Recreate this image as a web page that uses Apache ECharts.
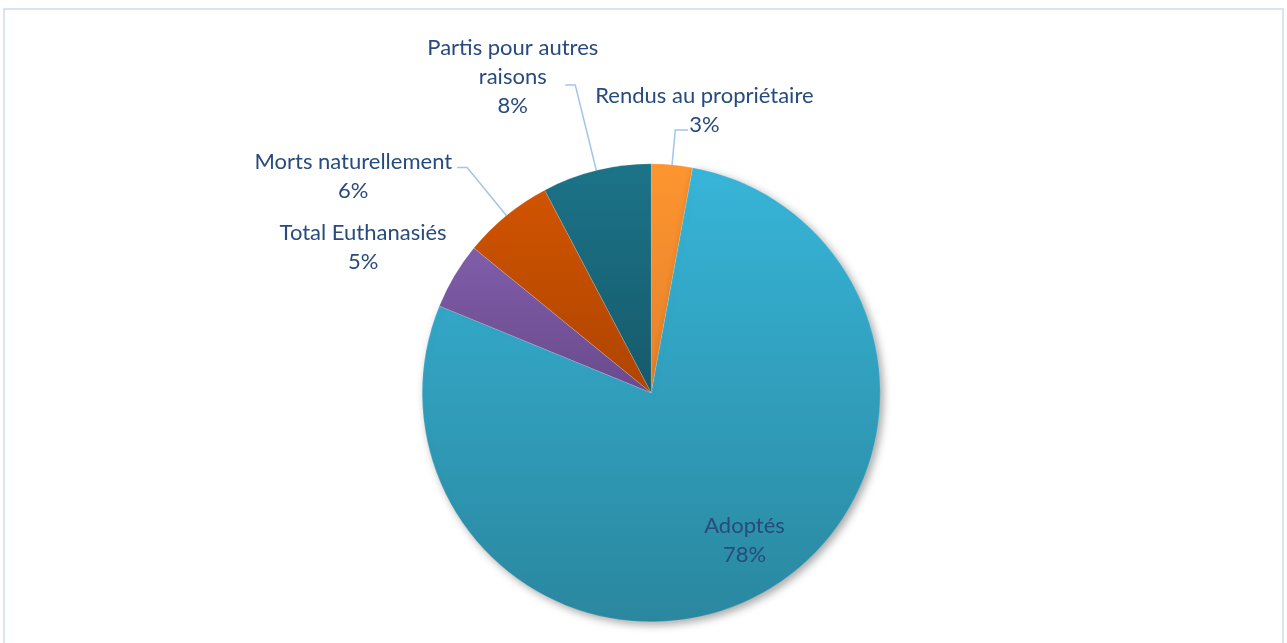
<!DOCTYPE html>
<html>
<head>
<meta charset="utf-8">
<script src="https://cdn.jsdelivr.net/npm/echarts@6/dist/echarts.min.js"></script>
<style>
  html, body { margin: 0; padding: 0; background: #ffffff; }
  #wrap { position: relative; width: 1287px; height: 643px; overflow: hidden; }
  #chart { position: absolute; left: 0; top: 0; width: 1287px; height: 643px; }
  #frame { position: absolute; left: 3px; top: 8px; width: 1281px; height: 660px;
           border: 2px solid #D9E4F3; box-sizing: border-box; pointer-events: none; }
</style>
</head>
<body>
<div id="wrap">
  <div id="chart"></div>
  <div id="frame"></div>
</div>
<script>
// ---- data ----
const categories = ['Rendus au propriétaire', 'Adoptés', 'Total Euthanasiés', 'Morts naturellement', 'Partis pour autres raisons'];
const shares = [2.9, 78.3, 4.7, 6.4, 7.7];

// ---- styles ----
const gradTop    = ['#FD952F', '#37B5D8', '#7F5DA9', '#D05400', '#1C7388'];
const gradBottom = ['#E5812A', '#2A879F', '#6A4A8D', '#AF4400', '#165A6B'];
const lineLen  = [35, 0, 15, 62, 88];
const lineLen2 = [13, 0, 0, 10, 10];
const labelShift = [[-98, -20], [37, 44], [10, -21], [0, 9], [38, -8]];
const textColor = '#274B7D';

function wrapName(name) {
  if (name.length <= 22) return [name];
  const i = name.lastIndexOf(' ');
  return [name.slice(0, i), name.slice(i + 1)];
}

const seriesData = categories.map((name, i) => {
  const item = {
    name: name,
    value: shares[i],
    itemStyle: {
      color: {
        type: 'linear', x: 0, y: 0, x2: 0, y2: 1,
        colorStops: [{ offset: 0, color: gradTop[i] }, { offset: 1, color: gradBottom[i] }]
      }
    },
    labelLine: { length: lineLen[i], length2: lineLen2[i] }
  };
  if (i === 1) {
    item.label = { position: 'inside' };
    item.itemStyle.shadowBlur = 8;
    item.itemStyle.shadowOffsetX = 3;
    item.itemStyle.shadowOffsetY = 3;
    item.itemStyle.shadowColor = 'rgba(0,0,0,0.35)';
  }
  if (i === 2) {
    item.labelLine.show = false;
  }
  return item;
});

const chart = echarts.init(document.getElementById('chart'), null, { renderer: 'canvas' });
chart.setOption({
  animation: false,
  backgroundColor: '#ffffff',
  series: [{
    type: 'pie',
    center: ['50.6%', '61.1%'],
    radius: 229,
    startAngle: 90,
    clockwise: true,
    avoidLabelOverlap: false,
    percentPrecision: 0,
    itemStyle: { borderColor: 'rgba(255,255,255,0.3)', borderWidth: 0.5 },
    label: {
      show: true,
      color: textColor,
      fontFamily: 'Lato',
      fontSize: 22,
      lineHeight: 29,
      formatter: function (p) {
        const lines = wrapName(p.name).concat([p.percent + '%']);
        return lines.map(s => '{c|' + s + '}').join('\n');
      },
      rich: {
        c: { align: 'center', color: textColor, fontFamily: 'Lato', fontSize: 22, lineHeight: 29 }
      }
    },
    labelLine: {
      show: true,
      smooth: false,
      lineStyle: { color: '#A3C4EB', width: 1.5 }
    },
    labelLayout: function (params) {
      const s = labelShift[params.dataIndex];
      return { dx: s[0], dy: s[1] };
    },
    emphasis: { disabled: true },
    data: seriesData
  }]
});
</script>
</body>
</html>
